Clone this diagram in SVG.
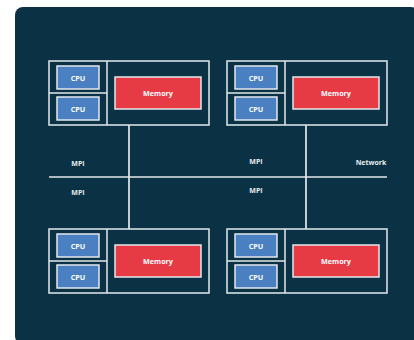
<svg xmlns="http://www.w3.org/2000/svg" width="414" height="340" viewBox="0 0 414 340">
<style>
.bg{fill:#0b3244}
.frame{fill:none;stroke:#e4e9ec;stroke-width:1.5}
.cpu{fill:#4a7fc2;stroke:#e4e9ec;stroke-width:1.5}
.mem{fill:#e63a44;stroke:#e4e9ec;stroke-width:1.5}
.t{font-family:"Open Sans","Liberation Sans",sans-serif;font-weight:bold;font-size:7.2px;fill:#ffffff;text-anchor:middle;dominant-baseline:central}
.lbl{font-family:"Open Sans","Liberation Sans",sans-serif;font-weight:bold;font-size:7px;fill:#e8ecee;text-anchor:middle;dominant-baseline:central}
.wire{stroke:#e4e9ec;stroke-width:1.7;fill:none}
</style>
<rect width="414" height="340" fill="#ffffff"/>
<rect class="bg" x="15" y="7" width="404" height="337" rx="8"/>
<defs>
<g id="node">
<rect class="frame" x="0" y="0" width="160" height="64"/>
<line class="frame" x1="58" y1="0" x2="58" y2="64"/>
<line class="frame" x1="0" y1="32" x2="58" y2="32"/>
<rect class="cpu" x="8" y="5" width="42" height="23"/>
<text class="t" x="29" y="16.5">CPU</text>
<rect class="cpu" x="8" y="36" width="42" height="23"/>
<text class="t" x="29" y="47.5">CPU</text>
<rect class="mem" x="66" y="16" width="86" height="32"/>
<text class="t" x="109" y="32">Memory</text>
</g>
</defs>
<g id="connectors">
<line class="wire" x1="129" y1="125" x2="129" y2="229"/>
<line class="wire" x1="306" y1="125" x2="306" y2="229"/>
<line class="wire" x1="49" y1="177" x2="387" y2="177"/>
</g>
<g id="node-tl"><use href="#node" x="49" y="61"/></g>
<g id="node-tr"><use href="#node" x="227" y="61"/></g>
<g id="node-bl"><use href="#node" x="49" y="229"/></g>
<g id="node-br"><use href="#node" x="227" y="229"/></g>
<g id="labels">
<text class="lbl" x="78" y="163">MPI</text>
<text class="lbl" x="78" y="192">MPI</text>
<text class="lbl" x="256" y="161">MPI</text>
<text class="lbl" x="256" y="190.5">MPI</text>
<text class="lbl" x="371" y="162">Network</text>
</g>
</svg>
